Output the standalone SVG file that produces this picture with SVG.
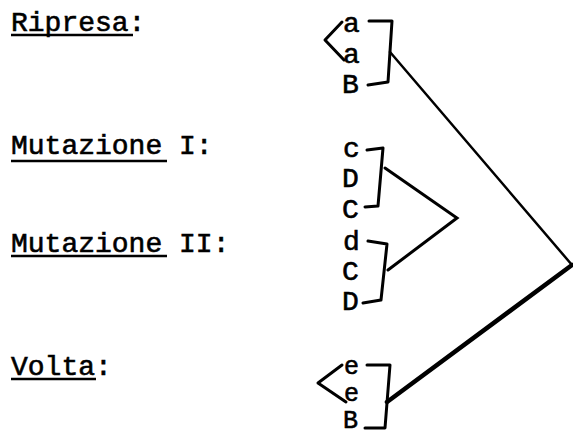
<svg xmlns="http://www.w3.org/2000/svg" width="573" height="435" viewBox="0 0 573 435">
<style>
text{font-family:"Liberation Mono","Courier New",monospace;font-size:28px;fill:#000;stroke:#000;stroke-width:0.6}
.sm{font-size:25px}
.ul{stroke:#000;stroke-width:2.5;fill:none}
.br{stroke:#000;stroke-width:3;fill:none;stroke-linejoin:round;stroke-linecap:round}
.cn{stroke:#000;fill:none;stroke-linejoin:miter;stroke-linecap:round}
</style>
<rect width="573" height="435" fill="#fff"/>
<g id="labels">
<g id="ripresa"><text x="11" y="31">Ripresa:</text><line class="ul" x1="11" y1="35" x2="133" y2="35"/></g>
<g id="mutazione1"><text x="11" y="154">Mutazione I:</text><line class="ul" x1="11" y1="161" x2="167" y2="161"/></g>
<g id="mutazione2"><text x="11" y="252">Mutazione II:</text><line class="ul" x1="11" y1="256" x2="167" y2="256"/></g>
<g id="volta"><text x="11" y="375">Volta:</text><line class="ul" x1="11" y1="379" x2="96" y2="379"/></g>
</g>
<g id="group-ripresa">
<text x="343" y="32">a</text><text x="343" y="63">a</text><text x="342" y="93">B</text>
<polyline class="br" points="342,22 325,40 344,60"/>
<polyline class="br" points="369,21 392,21 388,82 368,85"/>
</g>
<g id="group-mut1">
<text x="343" y="157">c</text><text x="342" y="187">D</text><text x="342" y="218">C</text>
<polyline class="br" points="367,150 383,148 378,206 365,207"/>
</g>
<g id="group-mut2">
<text x="343" y="250">d</text><text x="342" y="280">C</text><text x="342" y="310">D</text>
<polyline class="br" points="368,241 387,244 381,300 363,303"/>
</g>
<g id="group-volta">
<text class="sm" x="344" y="374">e</text><text class="sm" x="344" y="401">e</text><text class="sm" x="343" y="428">B</text>
<polyline class="br" points="342,365 318,383 346,402"/>
<polyline class="br" points="367,365 390,365 385,428 365,428"/>
</g>
<g id="connectors">
<polyline class="cn" stroke-width="3" points="385,168 457,218 388,270"/>
<polyline class="cn" stroke-width="2.5" points="390,52 572,265"/>
<polyline class="cn" stroke-width="4.5" points="572,265 387,402"/>
</g>
</svg>
